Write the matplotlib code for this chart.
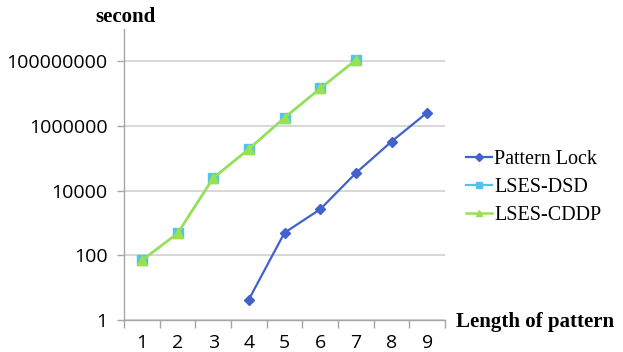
import numpy as np
import matplotlib.pyplot as plt
from matplotlib.ticker import FixedLocator, NullFormatter

# values (seconds, log scale)
lengths = [1, 2, 3, 4, 5, 6, 7, 8, 9]
pattern_lock_x = [4, 5, 6, 7, 8, 9]
pattern_lock = [4.3, 500, 2650, 35000, 330000, 2.6e6]
lses_x = [1, 2, 3, 4, 5, 6, 7]
lses_dsd = [70, 475, 24500, 194000, 1.8e6, 1.45e7, 1.1e8]
lses_cddp = [70, 475, 24500, 194000, 1.8e6, 1.45e7, 1.1e8]
y_ticks = [1, 100, 10000, 1000000, 100000000]

fig = plt.figure(figsize=(6.23, 3.52), dpi=100)
ax = fig.add_axes([124 / 623, 1 - 320 / 352, (445 - 124) / 623, (320 - 29) / 352])

ax.plot(pattern_lock_x, pattern_lock, color='#4162cc', lw=1.6, marker='D',
        ms=5.5, label='Pattern Lock')
ax.plot(lses_x, lses_dsd, color='#4fc4ee', lw=1.6, marker='s', ms=7,
        label='LSES-DSD')
ax.plot(lses_x, lses_cddp, color='#98e24e', lw=1.8, marker='^', ms=7,
        label='LSES-CDDP')

ax.set_yscale('log')
ax.set_ylim(1, 1e9)
ax.set_xlim(0.5, 9.5)
ax.yaxis.set_major_locator(FixedLocator(y_ticks))
ax.yaxis.set_minor_locator(FixedLocator([]))
ax.set_yticklabels([str(v) for v in y_ticks])
ax.set_xticks(lengths)
ax.set_xticks(np.arange(0.5, 10, 1), minor=True)
ax.xaxis.set_minor_formatter(NullFormatter())

grid_c = '#d4d4d4'
axis_c = '#a6a6a6'
ax.grid(axis='y', color=grid_c, lw=1.3)
ax.set_axisbelow(True)
for s in ['top', 'right']:
    ax.spines[s].set_visible(False)
for s in ['left', 'bottom']:
    ax.spines[s].set_color(axis_c)
    ax.spines[s].set_linewidth(1.0)

ax.tick_params(axis='y', which='major', length=5, color=axis_c, width=1,
               pad=7, labelsize=14)
ax.tick_params(axis='x', which='major', length=0, pad=10, labelsize=14)
ax.tick_params(axis='x', which='minor', length=6, color=axis_c, width=1)
for lab in ax.get_xticklabels() + ax.get_yticklabels():
    lab.set_fontfamily('Open Sans')

fig.text(126 / 623, 1 - 17 / 352, 'second', family='Liberation Serif',
         weight='bold', fontsize=15, ha='center', va='center')
fig.text(456 / 623, 1 - 322 / 352, 'Length of pattern', family='Liberation Serif',
         weight='bold', fontsize=15, ha='left', va='center')

ax.legend(loc='upper left', bbox_to_anchor=(458 / 623, 1 - 142 / 352),
          bbox_transform=fig.transFigure, frameon=False,
          prop={'family': 'Liberation Serif', 'size': 14.5},
          handlelength=1.3, handletextpad=0.1, labelspacing=0.45,
          borderaxespad=0, markerscale=0.7)

fig.savefig('out.png', dpi=100)
